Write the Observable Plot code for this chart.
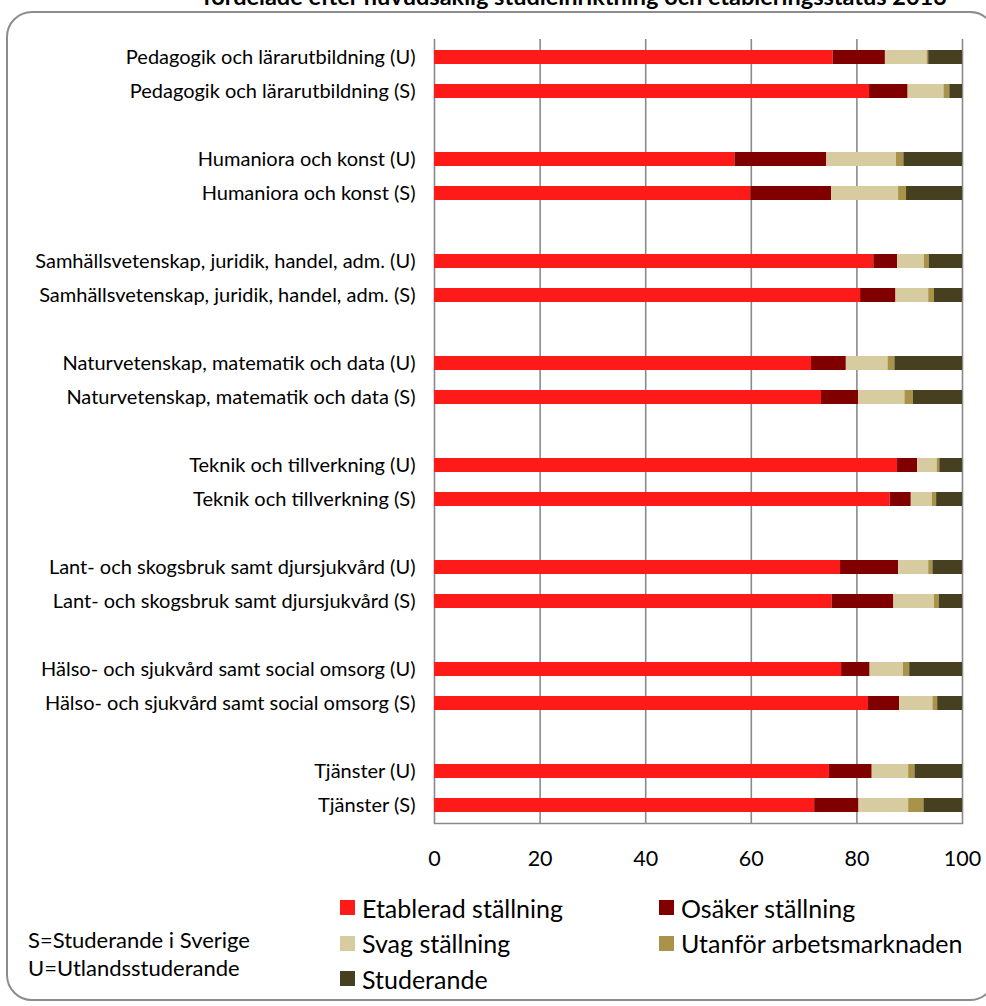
<!DOCTYPE html>
<html><head><meta charset="utf-8">
<script src="https://cdn.jsdelivr.net/npm/d3@7"></script>
<script src="https://cdn.jsdelivr.net/npm/@observablehq/plot@0.6"></script>
<style>
body{margin:0;background:#fff;font-family:Lato,sans-serif;color:#000;}
#wrap{position:relative;width:986px;height:1006px;overflow:hidden;}
#title{position:absolute;left:0;width:1150px;text-align:center;top:-16px;font-size:23.5px;line-height:24px;font-weight:bold;white-space:nowrap;}
#border{position:absolute;left:6px;top:11px;width:990px;height:990px;border:2px solid #8c8c8c;border-radius:26px;box-sizing:border-box;}
#chart{position:absolute;left:0;top:0;}
.leg{position:absolute;font-size:25px;line-height:22px;height:22px;white-space:nowrap;display:flex;align-items:center;}
.sw{display:inline-block;width:15px;height:15px;margin-right:7px;}
.note{position:absolute;left:28px;font-size:22px;line-height:28px;white-space:nowrap;}
</style></head><body><div id="wrap">
<div id="title">fördelade efter huvudsaklig studieinriktning och etableringsstatus 2013</div>
<div id="border"></div>
<div id="chart"></div>
<div id="legend"></div>
<div class="note" style="top:926px">S=Studerande i Sverige<br>U=Utlandsstuderande</div>
</div>
<script>
const fields = [
  "Pedagogik och lärarutbildning",
  "Humaniora och konst",
  "Samhällsvetenskap, juridik, handel, adm.",
  "Naturvetenskap, matematik och data",
  "Teknik och tillverkning",
  "Lant- och skogsbruk samt djursjukvård",
  "Hälso- och sjukvård samt social omsorg",
  "Tjänster"
];
const groups = ["(U)", "(S)"];
const statuses = ["Etablerad ställning", "Osäker ställning", "Svag ställning", "Utanför arbetsmarknaden", "Studerande"];
const colors = ["#ff1a1a", "#800000", "#d7cba0", "#a9924a", "#463f20"];
const xTicks = [0, 20, 40, 60, 80, 100];

// row order: each field (U) then (S)
const etablerad  = [75.5, 82.4, 56.9, 59.9, 83.2, 80.7, 71.4, 73.3, 87.7, 86.3, 76.9, 75.3, 77.1, 82.2, 74.8, 72.0];
const osaker     = [ 9.9,  7.3, 17.4, 15.3,  4.5,  6.7,  6.6,  7.0,  3.8,  4.0, 11.0, 11.7,  5.4,  5.9,  8.1,  8.4];
const svag       = [ 7.9,  6.8, 13.2, 12.7,  5.1,  6.2,  7.9,  8.8,  3.7,  4.0,  5.7,  7.7,  6.3,  6.3,  6.9,  9.4];
const utanfor    = [ 0.3,  1.1,  1.4,  1.5,  0.9,  1.1,  1.3,  1.6,  0.5,  0.8,  0.8,  0.9,  1.2,  0.9,  1.2,  2.9];
const studerande = [ 6.4,  2.4, 11.1, 10.6,  6.3,  5.3, 12.8,  9.3,  4.3,  4.9,  5.6,  4.4, 10.0,  4.7,  9.0,  7.3];
const series = [etablerad, osaker, svag, utanfor, studerande];

const labels = fields.flatMap(f => groups.map(g => `${f} ${g}`));
const domain = [];
fields.forEach((f, i) => {
  groups.forEach(g => domain.push(`${f} ${g}`));
  if (i < fields.length - 1) domain.push(`gap${i}`);
});
const data = [];
labels.forEach((row, i) => {
  statuses.forEach((s, j) => data.push({row, status: s, value: series[j][i]}));
});

const chart = Plot.plot({
  width: 986,
  height: 880,
  marginLeft: 434,
  marginRight: 24,
  marginTop: 39,
  marginBottom: 57,
  style: {fontFamily: "Lato, sans-serif", color: "#000", background: "transparent"},
  x: {domain: [0, 100]},
  y: {domain, paddingInner: 0.6, paddingOuter: 0.3},
  color: {domain: statuses, range: colors},
  marks: [
    Plot.gridX({ticks: xTicks, stroke: "#8a8a8a", strokeOpacity: 1, strokeWidth: 1.6}),
    Plot.barX(data, {x: "value", y: "row", fill: "status"}),
    Plot.frame({anchor: "bottom", stroke: "#8a8a8a", strokeWidth: 1.6}),
    Plot.axisX({ticks: xTicks, tickSize: 0, tickPadding: 27, fontSize: 21.5, label: null}),
    Plot.axisY({tickSize: 0, tickPadding: 19, fontSize: 20, label: null,
      tickFormat: d => d.startsWith("gap") ? "" : d})
  ]
});
document.getElementById("chart").appendChild(chart);

const legendPos = [
  [340, 896.5], [659, 896.5],
  [340, 932], [659, 932],
  [340, 967.5]
];
const leg = document.getElementById("legend");
statuses.forEach((s, i) => {
  const d = document.createElement("div");
  d.className = "leg";
  d.style.left = legendPos[i][0] + "px";
  d.style.top = legendPos[i][1] + "px";
  d.innerHTML = `<span class="sw" style="background:${colors[i]}"></span>${s}`;
  leg.appendChild(d);
});
</script>
</body></html>
